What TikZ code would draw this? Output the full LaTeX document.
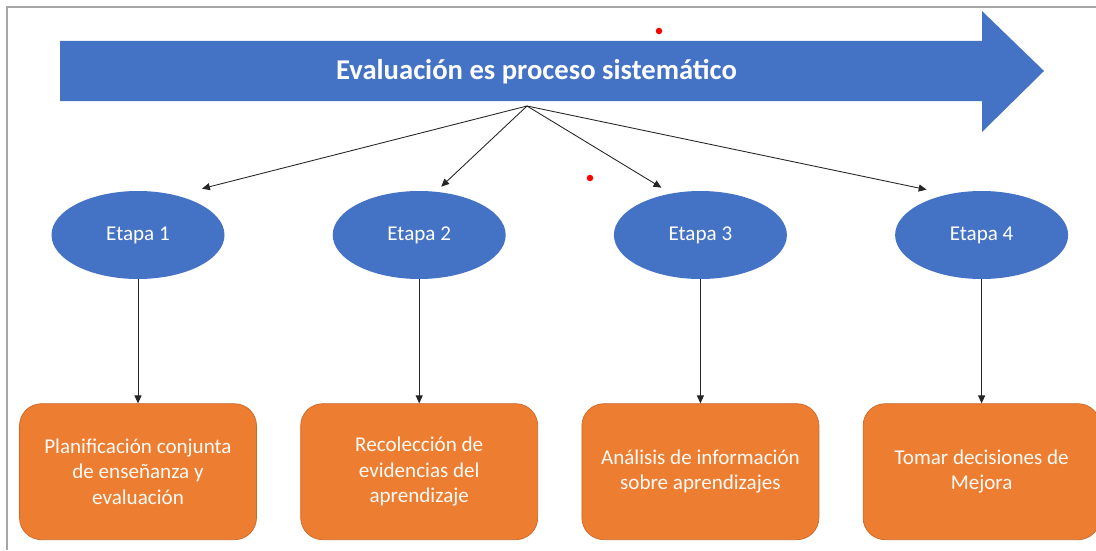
\documentclass[tikz,border=0pt]{standalone}
\usepackage{fontspec}
\setmainfont{Carlito}
\usetikzlibrary{positioning,arrows.meta,shapes.geometric}
\definecolor{azul}{HTML}{4472C4}
\definecolor{naranja}{HTML}{ED7D31}
\definecolor{borde}{HTML}{C9692A}
\definecolor{marco}{HTML}{A6A6A6}

\begin{document}
\begin{tikzpicture}[font=\fontsize{12}{14.4}\selectfont, node distance=2.48cm and 2.15cm,
    etapa/.style={ellipse, fill=azul, text=white, inner sep=0pt, minimum width=3.46cm, minimum height=1.76cm},
    tarea/.style={draw=borde, line width=0.4pt, fill=naranja, text=white!97!orange, rounded corners=0.44cm, align=center, inner sep=0pt, minimum width=4.74cm, minimum height=2.72cm},
    enlace/.style={draw=black!85, line width=0.5pt, -{Triangle[length=4.5pt,width=4pt]}}]
    \useasboundingbox (0,0) rectangle (21.92,-11);
    % marco
    \draw[marco, line width=0.8pt] (0.14,-11) -- (0.14,-0.14) -- (21.92,-0.14);
    % flecha del proceso
    \fill[azul] (1.2,-0.82) -- (19.64,-0.82) -- (19.64,-0.22) -- (20.88,-1.42) -- (19.64,-2.64) -- (19.64,-2.02) -- (1.2,-2.02) -- cycle;
    \node[text=white, font=\fontsize{16.3}{19}\selectfont\bfseries] (titulo) at (10.73,-1.44) {Evaluación es proceso sistemático};
    \coordinate (hub) at (10.54,-2.12);
    % etapas
    \node[etapa] (e1) at (2.76,-4.7) {Etapa 1};
    \node[etapa, right=of e1] (e2) {Etapa 2};
    \node[etapa, right=of e2] (e3) {Etapa 3};
    \node[etapa, right=of e3] (e4) {Etapa 4};
    % tareas
    \node[tarea, below=of e1] (t1) {Planificación conjunta\\de enseñanza y\\evaluación};
    \node[tarea, below=of e2] (t2) {Recolección de\\evidencias del\\aprendizaje};
    \node[tarea, below=of e3] (t3) {Análisis de información\\sobre aprendizajes};
    \node[tarea, below=of e4] (t4) {Tomar decisiones de\\Mejora};
    % conectores
    \draw[enlace] (hub) -- ([xshift=1.28cm, yshift=0.04cm]e1.north);
    \draw[enlace] (hub) -- ([xshift=0.44cm, yshift=0.08cm]e2.north);
    \draw[enlace] (hub) -- ([xshift=-0.78cm, yshift=0.06cm]e3.north);
    \draw[enlace] (hub) -- ([xshift=-1.1cm, yshift=0.02cm]e4.north);
    \foreach \i in {1,...,4}
      \draw[enlace] (e\i) -- (t\i);
    % puntos rojos
    \fill[red] (13.18,-0.62) circle (0.065);
    \fill[red] (11.8,-3.56) circle (0.065);
\end{tikzpicture}
\end{document}
